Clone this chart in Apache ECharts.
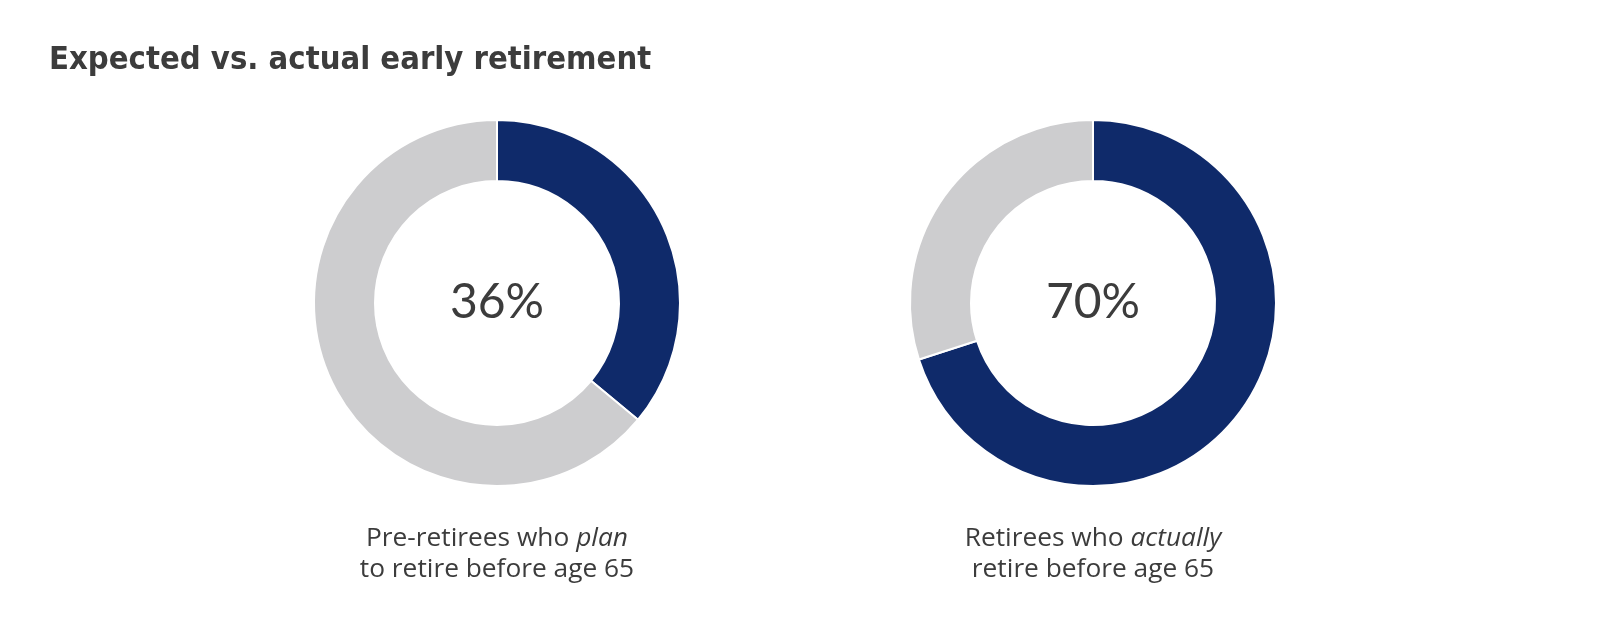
<!DOCTYPE html>
<html>
<head>
<meta charset="utf-8">
<script src="https://cdn.jsdelivr.net/npm/echarts@6/dist/echarts.min.js"></script>
<style>
  html, body { margin: 0; padding: 0; background: #ffffff; }
  #chart { width: 1600px; height: 626px; }
</style>
</head>
<body>
<div id="chart"></div>
<script>
const chartTitle = 'Expected vs. actual early retirement';
const captionLines = [
  ['Pre-retirees who {i|plan}', 'to retire before age 65'],
  ['Retirees who {i|actually}', 'retire before age 65']
];
const earlyShare = [36, 70];
const otherShare = [64, 30];
const centerX = [497, 1093];

const navy = '#0f2a6a';
const grey = '#cdcdcf';
const textColor = '#3c3c3c';

const chart = echarts.init(document.getElementById('chart'), null, { renderer: 'canvas' });

const series = earlyShare.map((v, i) => ({
  type: 'pie',
  center: [centerX[i], 303],
  radius: [122, 183],
  startAngle: 90,
  clockwise: true,
  silent: true,
  avoidLabelOverlap: false,
  itemStyle: { borderColor: '#ffffff', borderWidth: 2 },
  label: { show: false },
  labelLine: { show: false },
  data: [
    {
      value: v, name: 'early', itemStyle: { color: navy },
      label: {
        show: true, position: 'center', formatter: v + '%',
        fontFamily: 'Lato', fontSize: 48, fontWeight: 'normal', color: textColor
      }
    },
    { value: otherShare[i], name: 'other', itemStyle: { color: grey } }
  ]
}));

const titles = [{
  text: chartTitle, left: 49, top: 44, padding: 0,
  textStyle: { fontFamily: 'DejaVu Sans Condensed', fontWeight: 'bold', fontSize: 32.5, color: textColor }
}];
captionLines.forEach((lines, i) => {
  titles.push({
    text: lines.join('\n'),
    left: centerX[i], top: 523, textAlign: 'center', padding: 0,
    textStyle: {
      fontFamily: 'Open Sans', fontSize: 26.3, color: textColor, lineHeight: 31, fontWeight: 500,
      rich: { i: { fontFamily: 'Open Sans', fontStyle: 'italic', fontSize: 26.3, fontWeight: 500, color: textColor, lineHeight: 31 } }
    }
  });
});

chart.setOption({
  backgroundColor: '#ffffff',
  animation: false,
  title: titles,
  series: series
});
</script>
</body>
</html>
